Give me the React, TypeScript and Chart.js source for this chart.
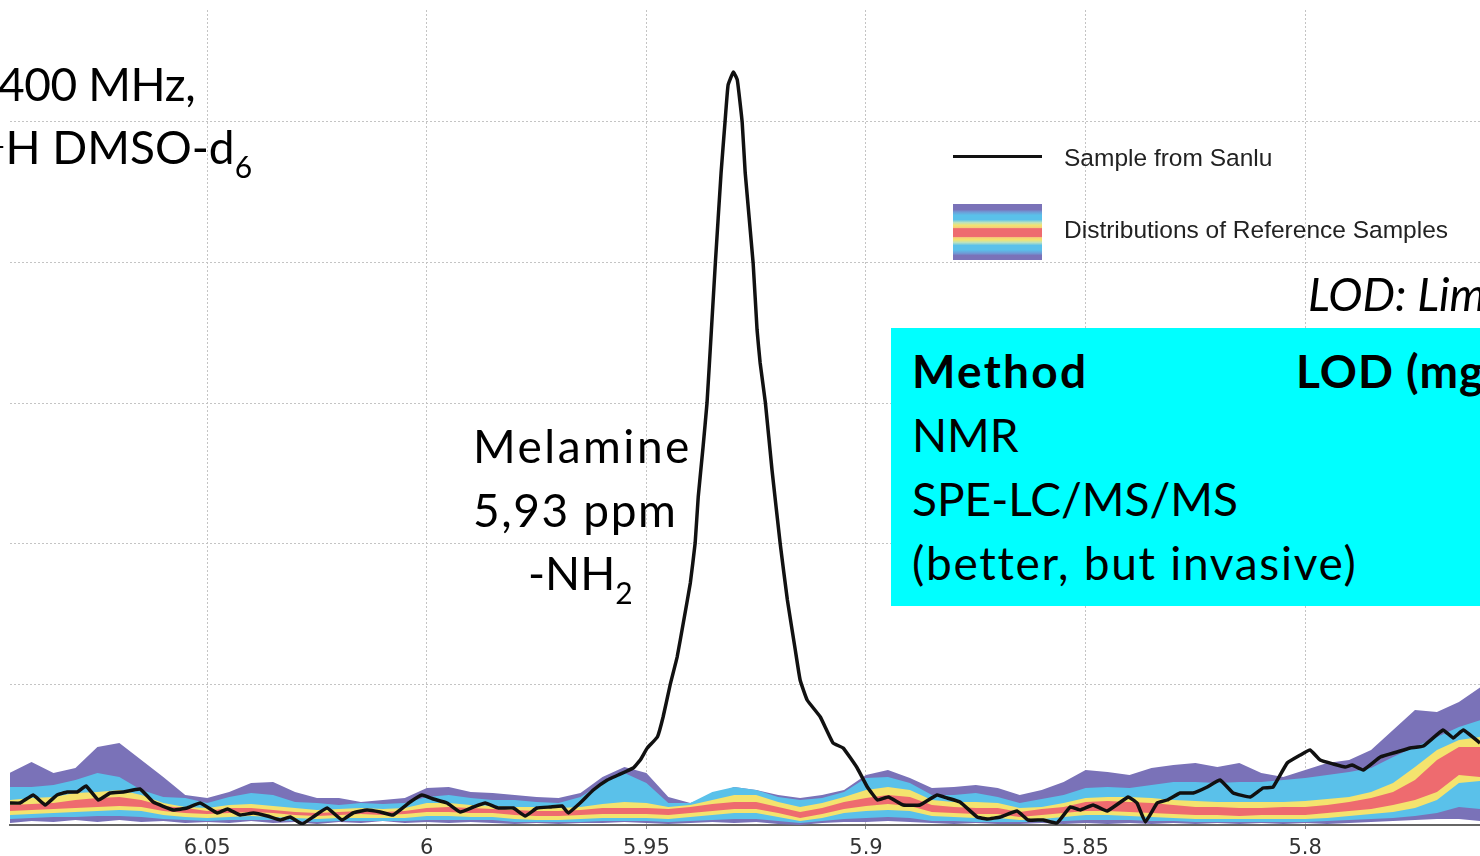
import React, { useEffect, useRef } from "react";
import { Chart, registerables } from "chart.js";

Chart.register(...registerables);

// ---------- axis ----------
const X_TICKS = [6.05, 6.0, 5.95, 5.9, 5.85, 5.8];
const X_MIN = 5.7602;
const X_MAX = 6.0949;
const Y_MIN = 0;
const Y_MAX = 815;
const Y_STEP = 140.6;

// ---------- reference-sample distribution bands (ppm grid) ----------
const BAND_PPM = [
  6.095, 6.09, 6.085, 6.08, 6.075, 6.07, 6.065, 6.06, 6.055, 6.05,
  6.045, 6.04, 6.035, 6.03, 6.025, 6.02, 6.015, 6.01, 6.005, 6.0,
  5.995, 5.99, 5.985, 5.98, 5.975, 5.97, 5.965, 5.96, 5.955, 5.95,
  5.945, 5.94, 5.935, 5.93, 5.925, 5.92, 5.915, 5.91, 5.905, 5.9,
  5.895, 5.89, 5.885, 5.88, 5.875, 5.87, 5.865, 5.86, 5.855, 5.85,
  5.845, 5.84, 5.835, 5.83, 5.825, 5.82, 5.815, 5.81, 5.805, 5.8,
  5.795, 5.79, 5.785, 5.78, 5.775, 5.77, 5.765, 5.76,
];

const PURPLE_TOP = [
  52, 63, 52, 57, 78, 82, 65, 48, 30, 27, 33, 42, 43, 33, 27, 27, 23, 25, 27, 37, 38, 33, 32,
  30, 28, 27, 32, 48, 58, 52, 28, 22, 30, 38, 35, 30, 27, 30, 35, 50, 55, 47, 37, 38, 40, 37,
  30, 35, 43, 55, 53, 50, 57, 60, 62, 58, 62, 52, 48, 55, 62, 65, 75, 95, 115, 113, 123, 138,
];
const CYAN_TOP = [
  38, 38, 40, 45, 52, 48, 35, 28, 27, 22, 28, 32, 30, 23, 22, 20, 22, 21, 22, 28, 30, 27, 25,
  25, 23, 22, 28, 42, 52, 42, 22, 22, 33, 38, 35, 28, 25, 27, 33, 47, 48, 42, 30, 30, 32, 28,
  22, 26, 30, 37, 38, 37, 40, 43, 43, 42, 43, 43, 45, 47, 50, 53, 57, 68, 78, 88, 98, 105,
];
const YELLOW_TOP = [
  25, 27, 28, 32, 33, 35, 30, 22, 18, 17, 20, 21, 19, 17, 15, 16, 17, 16, 17, 22, 22, 20, 19,
  18, 18, 17, 18, 21, 23, 22, 18, 20, 25, 30, 30, 23, 18, 22, 28, 35, 38, 35, 25, 23, 23, 22,
  17, 18, 22, 27, 28, 28, 27, 25, 24, 23, 23, 23, 23, 24, 26, 28, 33, 42, 58, 75, 85, 88,
];
const RED_TOP = [
  20, 21, 22, 25, 27, 28, 25, 19, 17, 14, 17, 17, 15, 13, 12, 13, 14, 13, 14, 17, 18, 17, 16,
  15, 14, 14, 15, 17, 17, 17, 16, 18, 21, 23, 23, 18, 13, 17, 23, 27, 30, 28, 20, 18, 17, 17,
  13, 16, 18, 23, 24, 23, 22, 20, 18, 18, 17, 17, 18, 18, 20, 23, 27, 33, 45, 65, 78, 78,
];
const RED_BOTTOM = [
  14, 15, 16, 17, 18, 19, 18, 14, 12, 11, 12, 13, 12, 10, 9, 10, 11, 10, 11, 13, 13, 12, 12,
  10, 9, 9, 10, 11, 11, 11, 10, 12, 14, 16, 16, 12, 7, 11, 16, 19, 21, 19, 13, 12, 11, 11,
  8, 10, 12, 14, 14, 13, 12, 11, 10, 10, 9, 10, 10, 10, 12, 14, 16, 20, 25, 33, 50, 48,
];
const YELLOW_BOTTOM = [
  10, 11, 12, 13, 14, 15, 14, 10, 8, 7, 8, 9, 8, 7, 6, 7, 7, 7, 7, 9, 9, 8, 8,
  6, 5, 5, 6, 7, 7, 7, 6, 8, 10, 12, 12, 8, 4, 7, 12, 14, 15, 14, 9, 8, 7, 7,
  5, 6, 8, 10, 10, 9, 8, 7, 6, 6, 6, 6, 6, 6, 7, 9, 11, 13, 17, 25, 42, 44,
];
const CYAN_BOTTOM = [
  6, 7, 8, 8, 9, 9, 8, 6, 5, 4, 5, 5, 5, 4, 3, 4, 4, 4, 4, 5, 5, 5, 5,
  3, 3, 3, 3, 4, 4, 4, 3, 4, 5, 6, 6, 4, 2, 4, 6, 7, 8, 7, 4, 4, 3, 3,
  3, 3, 4, 5, 5, 5, 4, 4, 3, 3, 3, 3, 3, 3, 4, 5, 6, 7, 9, 12, 18, 16,
];
const PURPLE_BOTTOM = [
  2, 4, 3, 5, 3, 5, 3, 4, 2, 3, 2, 4, 2, 3, 1, 3, 2, 4, 2, 3, 2, 3, 2,
  1, 2, 1, 2, 2, 3, 2, 1, 2, 3, 2, 3, 1, 0, 2, 3, 3, 4, 3, 2, 1, 2, 1,
  1, 2, 1, 2, 1, 2, 1, 2, 1, 2, 1, 2, 1, 2, 1, 2, 3, 4, 5, 6, 6, 4,
];

// ---------- Sanlu sample spectrum ----------
const LINE_PPM = [
  6.0949, 6.0926, 6.0896, 6.0869, 6.0842, 6.0819, 6.0796, 6.0776, 6.0748, 6.0721,
  6.0691, 6.0653, 6.0623, 6.0577, 6.0546, 6.0516, 6.0477, 6.0454, 6.0425, 6.0395,
  6.0363, 6.0334, 6.0311, 6.0284, 6.0259, 6.0227, 6.0193, 6.0168, 6.0136, 6.0106,
  6.0077, 6.0038, 6.0011, 5.9985, 5.9954, 5.9924, 5.9894, 5.9867, 5.9837, 5.9803,
  5.9776, 5.9749, 5.9719, 5.9692, 5.9678, 5.9651, 5.9621, 5.9589, 5.9564, 5.953,
  5.9514, 5.9498, 5.9475, 5.9462, 5.9446, 5.943, 5.9416, 5.94, 5.9389, 5.9382,
  5.9371, 5.9362, 5.9352, 5.9343, 5.933, 5.9321, 5.9314, 5.9302, 5.9293, 5.9282,
  5.9275, 5.9257, 5.9248, 5.9241, 5.9229, 5.9214, 5.9195, 5.9179, 5.9161, 5.915,
  5.9134, 5.9104, 5.9075, 5.9052, 5.902, 5.8997, 5.8974, 5.8949, 5.8915, 5.8877,
  5.8838, 5.8815, 5.8786, 5.8747, 5.8724, 5.8694, 5.8656, 5.8631, 5.8597, 5.8565,
  5.8535, 5.8512, 5.8483, 5.8451, 5.8403, 5.8383, 5.8364, 5.8337, 5.8314, 5.8285,
  5.8255, 5.8223, 5.8194, 5.8164, 5.8125, 5.8096, 5.8073, 5.8041, 5.8011, 5.7989,
  5.7966, 5.7936, 5.7909, 5.7893, 5.7868, 5.7829, 5.7791, 5.7761, 5.7731, 5.7686,
  5.7663, 5.764, 5.7602,
];
const LINE_Y = [
  22, 22, 30, 20, 30, 33, 33, 39, 25, 32,
  33, 36, 23, 15, 17, 22, 12, 16, 10, 12,
  9, 5, 8, 1, 8, 17, 5, 12, 15, 13,
  10, 23, 30, 26, 22, 13, 18, 22, 17, 17,
  9, 17, 18, 19, 12, 22, 35, 45, 50, 57,
  65, 77, 88, 108, 140, 168, 202, 242, 282, 328,
  378, 422, 495, 562, 652, 703, 740, 753, 745, 703,
  652, 562, 495, 462, 422, 355, 280, 225, 175, 145,
  125, 108, 82, 77, 57, 38, 25, 28, 20, 20,
  30, 27, 23, 8, 6, 8, 14, 5, 5, 2,
  18, 15, 20, 14, 28, 22, 3, 22, 25, 32,
  32, 38, 45, 32, 28, 37, 38, 62, 70, 75,
  65, 61, 58, 60, 55, 68, 73, 77, 79, 95,
  87, 95, 82,
];

// ---------- colours ----------
const C_PURPLE = "#7a72b8";
const C_CYAN = "#5ac1ea";
const C_YELLOW = "#f4e36e";
const C_RED = "#ee6b6f";
const C_LINE = "#111111";

const SLIDE_FONT = "Lato, 'Noto Sans', sans-serif";
const ARIAL = "'Liberation Sans', Arial, sans-serif";
const TICK_FONT = "'DejaVu Sans', Verdana, sans-serif";

function pts(ys: number[]) {
  return BAND_PPM.map((x, i) => ({ x, y: ys[i] }));
}

function band(label: string, ys: number[], order: number, fillTarget: number | false, color: string) {
  return {
    label,
    data: pts(ys),
    order,
    borderWidth: 0,
    borderColor: "transparent",
    backgroundColor: color,
    pointRadius: 0,
    fill: fillTarget === false ? false : fillTarget,
    tension: 0,
  };
}

function Txt(props: {
  x: number;
  base: number;
  size?: number;
  weight?: number;
  italic?: boolean;
  ls?: number;
  children: React.ReactNode;
}) {
  const size = props.size ?? 46;
  return (
    <div
      style={{
        position: "absolute",
        left: props.x,
        top: props.base - 0.987 * size,
        fontFamily: SLIDE_FONT,
        fontSize: size,
        lineHeight: `${1.2 * size}px`,
        fontWeight: props.weight ?? 400,
        fontStyle: props.italic ? "italic" : "normal",
        letterSpacing: props.ls ?? 0,
        color: "#000",
        whiteSpace: "nowrap",
      }}
    >
      {props.children}
    </div>
  );
}

const Sub = (p: { children: React.ReactNode }) => (
  <span style={{ fontSize: 30, verticalAlign: "-14px", lineHeight: 0 }}>{p.children}</span>
);
const Sup = (p: { children: React.ReactNode }) => (
  <span style={{ fontSize: 30, verticalAlign: "16px", lineHeight: 0, position: "relative", left: -6, marginRight: -6 }}>
    {p.children}
  </span>
);

export default function App() {
  const ref = useRef<HTMLCanvasElement>(null);

  useEffect(() => {
    if (!ref.current) return;
    const chart = new Chart(ref.current, {
      type: "line",
      data: {
        datasets: [
          {
            label: "Sample from Sanlu",
            data: LINE_PPM.map((x, i) => ({ x, y: LINE_Y[i] })),
            order: 0,
            borderColor: C_LINE,
            borderWidth: 3.5,
            pointRadius: 0,
            fill: false,
            tension: 0.1,
          } as any,
          band("red top", RED_TOP, 1, 2, C_RED),
          band("red bottom", RED_BOTTOM, 1, false, C_RED),
          band("yellow top", YELLOW_TOP, 2, 4, C_YELLOW),
          band("yellow bottom", YELLOW_BOTTOM, 2, false, C_YELLOW),
          band("cyan top", CYAN_TOP, 3, 6, C_CYAN),
          band("cyan bottom", CYAN_BOTTOM, 3, false, C_CYAN),
          band("purple top", PURPLE_TOP, 4, 8, C_PURPLE),
          band("purple bottom", PURPLE_BOTTOM, 4, false, C_PURPLE),
        ],
      },
      options: {
        animation: false,
        responsive: false,
        layout: { padding: { left: 10, top: 10, right: 0, bottom: 0 } },
        plugins: {
          legend: { display: false },
          tooltip: { enabled: false },
        },
        scales: {
          x: {
            type: "linear",
            reverse: true,
            min: X_MIN,
            max: X_MAX,
            afterBuildTicks: (s: any) => {
              s.ticks = X_TICKS.map((v) => ({ value: v }));
            },
            ticks: {
              autoSkip: false,
              maxRotation: 0,
              padding: 9,
              color: "#333",
              font: { family: TICK_FONT, size: 21, lineHeight: 1 },
              callback: (v: any) => String(Number(Number(v).toFixed(2))),
            },
            grid: {
              color: "#c4c4c4",
              lineWidth: 1,
              drawTicks: true,
              tickLength: 4,
              tickColor: "#888",
            },
            border: { display: true, color: "#666", width: 2, dash: [2, 2] },
          },
          y: {
            min: Y_MIN,
            max: Y_MAX,
            ticks: { display: false, stepSize: Y_STEP, includeBounds: false },
            grid: { color: "#c4c4c4", lineWidth: 1, drawTicks: false },
            border: { display: false, dash: [2, 2] },
          },
        },
      } as any,
    });
    return () => chart.destroy();
  }, []);

  return (
    <div
      style={{
        position: "fixed",
        left: 0,
        top: 0,
        width: 1480,
        height: 856,
        overflow: "hidden",
        background: "#fff",
      }}
    >
      <canvas
        ref={ref}
        width={1480}
        height={868}
        style={{ position: "absolute", left: 0, top: 0, width: 1480, height: 868 }}
      />

      {/* top-left slide text */}
      <Txt x={-2} base={101} ls={-0.4}>400 MHz,</Txt>
      <Txt x={-6} base={164}>
        <Sup>1</Sup>H DMSO-d<Sub>6</Sub>
      </Txt>

      {/* peak annotation */}
      <Txt x={473} base={463} ls={2.5}>Melamine</Txt>
      <Txt x={473} base={527} ls={1.6}>5,93 ppm</Txt>
      <Txt x={528} base={590}>
        -NH<Sub>2</Sub>
      </Txt>

      {/* legend */}
      <div
        style={{
          position: "absolute",
          left: 953,
          top: 154.5,
          width: 89,
          height: 3,
          background: C_LINE,
        }}
      />
      <div
        style={{
          position: "absolute",
          left: 953,
          top: 204,
          width: 89,
          height: 56,
          background: `linear-gradient(to bottom, ${C_PURPLE} 0%, ${C_PURPLE} 10%, #6f9ad6 14%, ${C_CYAN} 20%, ${C_CYAN} 28%, #b9e2c0 33%, ${C_YELLOW} 38%, #f5cf78 42%, ${C_RED} 44%, ${C_RED} 58%, #f5cf78 60%, ${C_YELLOW} 64%, #b9e2c0 69%, ${C_CYAN} 74%, ${C_CYAN} 82%, #6f9ad6 88%, ${C_PURPLE} 92%, ${C_PURPLE} 100%)`,
        }}
      />
      <div
        style={{
          position: "absolute",
          left: 1064,
          top: 166 - 0.9465 * 24.5,
          fontFamily: ARIAL,
          fontSize: 24.5,
          lineHeight: `${1.2 * 24.5}px`,
          color: "#222",
          whiteSpace: "nowrap",
        }}
      >
        Sample from Sanlu
      </div>
      <div
        style={{
          position: "absolute",
          left: 1064,
          top: 238 - 0.9465 * 24.5,
          fontFamily: ARIAL,
          fontSize: 24.5,
          lineHeight: `${1.2 * 24.5}px`,
          color: "#222",
          whiteSpace: "nowrap",
        }}
      >
        Distributions of Reference Samples
      </div>

      {/* LOD note */}
      <Txt x={1308} base={311} italic>
        LOD: Lim
      </Txt>

      {/* cyan table box */}
      <div
        style={{
          position: "absolute",
          left: 891,
          top: 328,
          width: 620,
          height: 278,
          background: "#00ffff",
        }}
      />
      <Txt x={912} base={388} weight={700} ls={2.3}>Method</Txt>
      <Txt x={1296} base={388} weight={700} ls={1}>LOD (mg</Txt>
      <Txt x={912} base={452}>NMR</Txt>
      <Txt x={912} base={516}>SPE-LC/MS/MS</Txt>
      <Txt x={912} base={580} ls={1.7}>(better, but invasive)</Txt>
    </div>
  );
}
